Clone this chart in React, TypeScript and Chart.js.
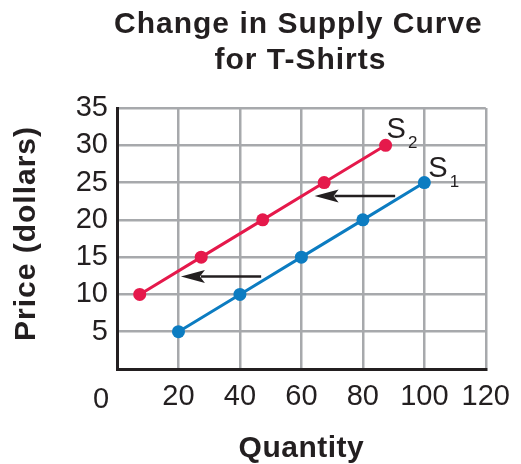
import React, { useEffect, useRef } from "react";
import { Chart, registerables } from "chart.js";

Chart.register(...registerables);

const titleLines = ["Change in Supply Curve", "for T-Shirts"];
const xAxisTitle = "Quantity";
const yAxisTitle = "Price (dollars)";

const s1Quantity = [20, 40, 60, 80, 100];
const s1Price = [5, 10, 15, 20, 25];
const s2Quantity = [7.4, 27.4, 47.4, 67.4, 87.4];
const s2Price = [10, 15, 20, 25, 30];

const seriesNames = ["S1", "S2"];
const seriesSubscripts = ["1", "2"];

const arrowFromQuantity = [90.5, 46.9];
const arrowToQuantity = [64.3, 20.8];
const arrowPrice = [23.2, 12.4];

const xMin = 0, xMax = 120, xStep = 20;
const yMin = 0, yMax = 35, yStep = 5;

const TEXT = "#231f20";
const RED = "#e5194b";
const BLUE = "#0c7cc1";
const GRID = "#a7a9ac";
const FONT = "'Liberation Sans', Arial, Helvetica, sans-serif";

const decorPlugin = {
  id: "decor",
  afterDatasetsDraw(chart: any) {
    const ctx = chart.ctx as CanvasRenderingContext2D;
    const xs = chart.scales.x;
    const ys = chart.scales.y;
    // arrows
    ctx.save();
    ctx.strokeStyle = TEXT;
    ctx.fillStyle = TEXT;
    ctx.lineWidth = 2.5;
    for (let i = 0; i < arrowPrice.length; i++) {
      const x0 = xs.getPixelForValue(arrowFromQuantity[i]);
      const x1 = xs.getPixelForValue(arrowToQuantity[i]);
      const y = ys.getPixelForValue(arrowPrice[i]);
      const headLen = 24;
      const half = 6.5;
      ctx.beginPath();
      ctx.moveTo(x0, y);
      ctx.lineTo(x1 + headLen - 4, y);
      ctx.stroke();
      ctx.beginPath();
      ctx.moveTo(x1, y);
      ctx.lineTo(x1 + headLen, y - half);
      ctx.lineTo(x1 + headLen - 5, y);
      ctx.lineTo(x1 + headLen, y + half);
      ctx.closePath();
      ctx.fill();
    }
    ctx.restore();

    // series labels S1 / S2
    const anchors = [
      { x: s1Quantity[s1Quantity.length - 1], y: s1Price[s1Price.length - 1], dx: 4, dy: -6 },
      { x: s2Quantity[s2Quantity.length - 1], y: s2Price[s2Price.length - 1], dx: 1, dy: -7 },
    ];
    ctx.save();
    ctx.fillStyle = TEXT;
    ctx.textBaseline = "alphabetic";
    ctx.textAlign = "left";
    anchors.forEach((a, i) => {
      const px = xs.getPixelForValue(a.x) + a.dx;
      const py = ys.getPixelForValue(a.y) + a.dy;
      ctx.font = `29px ${FONT}`;
      const main = seriesNames[i].charAt(0);
      ctx.fillText(main, px, py);
      const w = ctx.measureText(main).width;
      ctx.font = `17px ${FONT}`;
      ctx.fillText(seriesSubscripts[i], px + w + 2, py + 10);
    });
    ctx.restore();
  },
  afterDraw(chart: any) {
    const ctx = chart.ctx as CanvasRenderingContext2D;
    const area = chart.chartArea;
    const cx = (area.left + area.right) / 2;
    ctx.save();
    ctx.fillStyle = TEXT;
    (ctx as any).letterSpacing = "1px";
    ctx.textAlign = "center";
    ctx.textBaseline = "alphabetic";
    ctx.font = `bold 30px ${FONT}`;
    ctx.fillText(titleLines[0], cx - 3, 33);
    ctx.fillText(titleLines[1], cx - 1, 69);
    (ctx as any).letterSpacing = "0.5px";
    ctx.fillText(xAxisTitle, cx, 457);
    (ctx as any).letterSpacing = "1px";
    ctx.translate(27, (area.top + area.bottom) / 2 - 5);
    ctx.rotate(-Math.PI / 2);
    ctx.textBaseline = "middle";
    ctx.font = `bold 30px ${FONT}`;
    ctx.fillText(yAxisTitle, 0, 0);
    ctx.restore();

    // origin label
    ctx.save();
    ctx.fillStyle = TEXT;
    ctx.font = `29px ${FONT}`;
    ctx.textAlign = "center";
    ctx.textBaseline = "alphabetic";
    ctx.fillText(String(xMin), area.left - 16, 408);
    ctx.restore();
  },
};

export default function App() {
  const ref = useRef<HTMLCanvasElement>(null);
  useEffect(() => {
    document.body.style.margin = "0";
    const canvas = ref.current!;
    const chart = new Chart(canvas, {
      type: "scatter",
      data: {
        datasets: [
          {
            label: seriesNames[1],
            data: s2Quantity.map((q, i) => ({ x: q, y: s2Price[i] })),
            showLine: true,
            borderColor: RED,
            backgroundColor: RED,
            borderWidth: 3,
            pointRadius: 6.5,
            pointBorderWidth: 0,
            pointBackgroundColor: RED,
          },
          {
            label: seriesNames[0],
            data: s1Quantity.map((q, i) => ({ x: q, y: s1Price[i] })),
            showLine: true,
            borderColor: BLUE,
            backgroundColor: BLUE,
            borderWidth: 3,
            pointRadius: 6.5,
            pointBorderWidth: 0,
            pointBackgroundColor: BLUE,
          },
        ],
      },
      options: {
        animation: false,
        responsive: false,
        devicePixelRatio: 1,
        layout: { padding: { top: 108, right: 31, left: 0, bottom: 0 } },
        plugins: {
          legend: { display: false },
          title: { display: false },
          tooltip: { enabled: false },
        },
        scales: {
          x: {
            type: "linear",
            min: xMin,
            max: xMax,
            afterFit: (s: any) => { s.height = 95; },
            ticks: {
              stepSize: xStep,
              callback: (v: any) => (Number(v) === xMin ? "" : String(v)),
              font: { family: FONT, size: 29 },
              color: TEXT,
              padding: 11,
              maxRotation: 0,
              autoSkip: false,
            },
            grid: { color: GRID, lineWidth: 2.5, drawTicks: false },
            border: { color: TEXT, width: 3 },
          },
          y: {
            type: "linear",
            min: yMin,
            max: yMax,
            afterFit: (s: any) => { s.width = 117; },
            ticks: {
              stepSize: yStep,
              callback: (v: any) => (Number(v) === yMin ? "" : String(v)),
              font: { family: FONT, size: 29 },
              color: TEXT,
              padding: 9,
              autoSkip: false,
            },
            grid: { color: GRID, lineWidth: 2.5, drawTicks: false },
            border: { color: TEXT, width: 3 },
          },
        },
      },
      plugins: [decorPlugin],
    });
    return () => chart.destroy();
  }, []);
  return <canvas ref={ref} width={521} height={464} style={{ display: "block", width: 521, height: 464 }} />;
}
